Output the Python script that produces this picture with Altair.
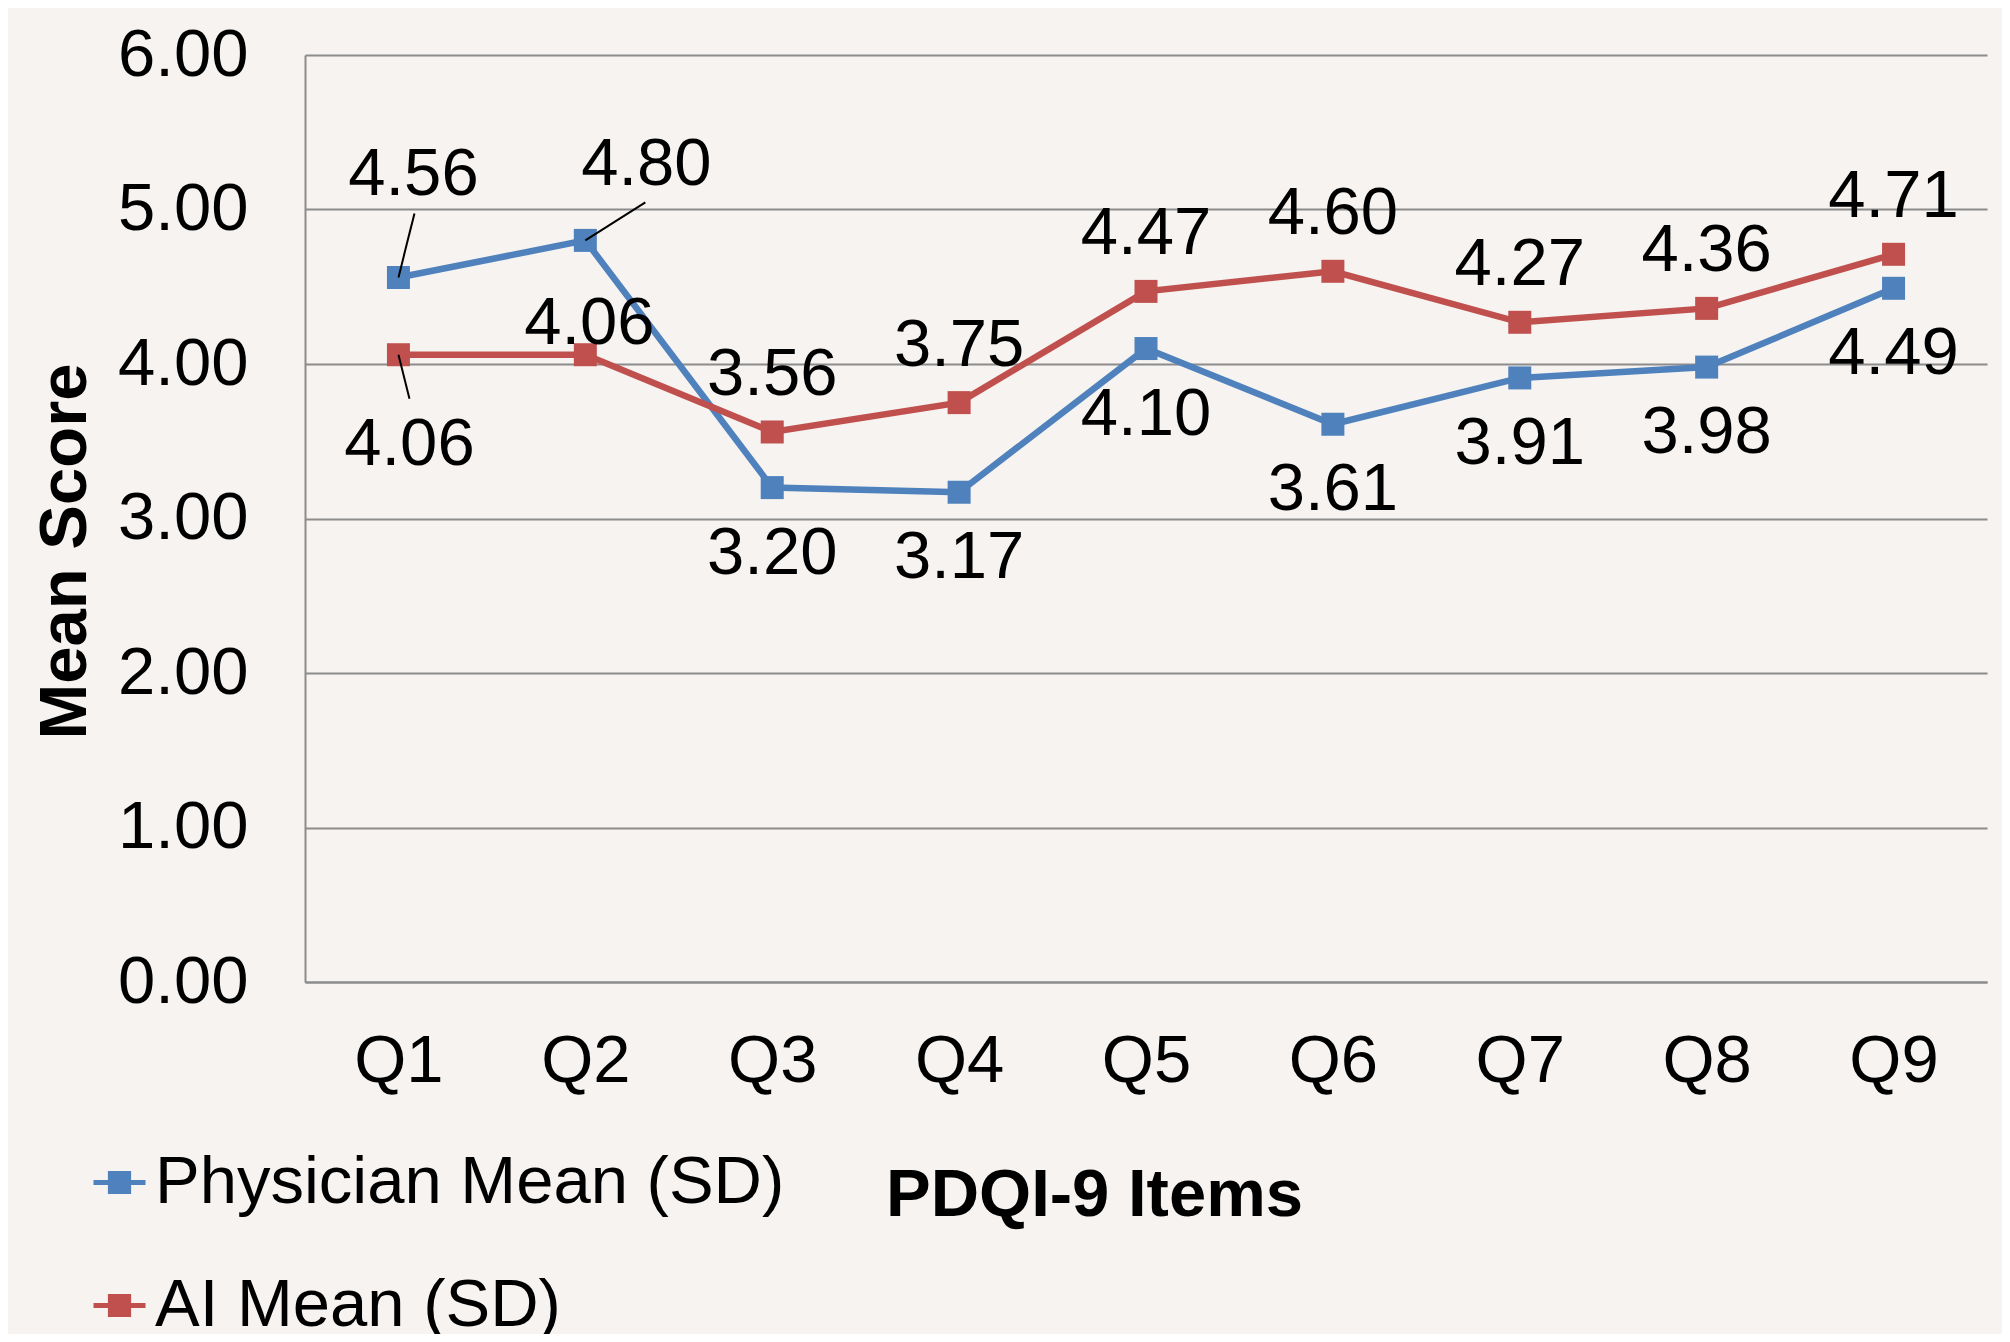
import altair as alt
import pandas as pd

items = ["Q1", "Q2", "Q3", "Q4", "Q5", "Q6", "Q7", "Q8", "Q9"]
physician = [4.56, 4.80, 3.20, 3.17, 4.10, 3.61, 3.91, 3.98, 4.49]
ai = [4.06, 4.06, 3.56, 3.75, 4.47, 4.60, 4.27, 4.36, 4.71]
series_names = ["Physician Mean (SD)", "AI Mean (SD)"]
series_colors = ["#4f81bd", "#c0504d"]
y_ticks = [0, 1, 2, 3, 4, 5, 6]

df = pd.DataFrame({
    "item": items + items,
    "value": physician + ai,
    "series": [series_names[0]] * len(items) + [series_names[1]] * len(items),
})

FONT = "Liberation Sans"
FS = 67
GRID = "#8c8c8c"

legend_path = "M-1,0L1,0M-0.35,-0.35L0.35,-0.35L0.35,0.35L-0.35,0.35Z"
legend = alt.Legend(
    title=None, orient="none", legendX=-219, legendY=1094, direction="vertical",
    symbolType=legend_path, symbolSize=2704, symbolStrokeWidth=5,
    labelFont=FONT, labelFontSize=FS, labelColor="black", labelOffset=2,
    rowPadding=55, padding=0, labelLimit=1000,
)
color_scale = alt.Scale(domain=series_names, range=series_colors)

base = alt.Chart(df).encode(
    x=alt.X("item:N", sort=items,
            scale=alt.Scale(type="point", padding=0.5),
            axis=alt.Axis(title="PDQI-9 Items", labelAngle=0, ticks=False, grid=False,
                          domainColor=GRID, domainWidth=2,
                          labelFont=FONT, labelFontSize=FS, labelColor="black",
                          labelBaseline="middle", labelPadding=79,
                          titleFont=FONT, titleFontSize=FS, titleFontWeight="bold",
                          titleColor="black", titleX=789, titleY=213,
                          titleBaseline="middle", titleAlign="center")),
    y=alt.Y("value:Q",
            scale=alt.Scale(domain=[0, 6], nice=False, zero=True),
            axis=alt.Axis(title="Mean Score", values=y_ticks, format=".2f", ticks=False,
                          grid=True, gridColor=GRID, gridWidth=2,
                          domainColor=GRID, domainWidth=2,
                          labelFont=FONT, labelFontSize=FS, labelColor="black",
                          labelPadding=57, labelBaseline="middle",
                          titleFont=FONT, titleFontSize=FS, titleFontWeight="bold",
                          titleColor="black", titleX=-240, titleY=496, titleAngle=-90,
                          titleBaseline="middle", titleAlign="center")),
)

lines = base.mark_line(strokeWidth=6.5).encode(
    stroke=alt.Stroke("series:N", scale=color_scale, legend=legend),
)
points = base.mark_point(shape="square", filled=True, size=529, opacity=1).encode(
    fill=alt.Fill("series:N", scale=color_scale, legend=legend),
)


def labels(series, subset, dx, dy):
    cond = "datum.series == '%s' && indexof(%s, datum.item) >= 0" % (
        series, "[" + ",".join("'%s'" % s for s in subset) + "]")
    return base.transform_filter(cond).mark_text(
        font=FONT, fontSize=FS, color="black", dx=dx, dy=dy,
        align="center", baseline="middle",
    ).encode(text=alt.Text("value:Q", format=".2f"))


def leader(series, item, dx, dy):
    cond = "datum.series == '%s' && datum.item == '%s'" % (series, item)
    return base.transform_filter(cond).mark_rule(
        color="black", strokeWidth=2, x2Offset=dx, y2Offset=dy,
    ).encode(x2=alt.X2("item:N"), y2=alt.Y2("value:Q"))


P, A = series_names
text_layers = [
    labels(P, items[2:], 0, 66),
    labels(A, items[2:], 0, -57),
    labels(P, ["Q1"], 15, -102),
    labels(P, ["Q2"], 61, -75),
    labels(A, ["Q1"], 11, 90),
    labels(A, ["Q2"], 4, -31),
]
leaders = [
    leader(P, "Q1", 16, -64),
    leader(P, "Q2", 60, -38),
    leader(A, "Q1", 11, 44),
]

chart = alt.layer(lines, points, *leaders, *text_layers).properties(
    width=1682, height=927,
    autosize=alt.AutoSizeParams(type="none"),
    padding={"left": 297, "top": 47, "right": 15, "bottom": 352},
    background="#f6f3f0",
).configure_view(stroke=None)

chart.save("out.html", embed_options={"renderer": "svg", "actions": False})
